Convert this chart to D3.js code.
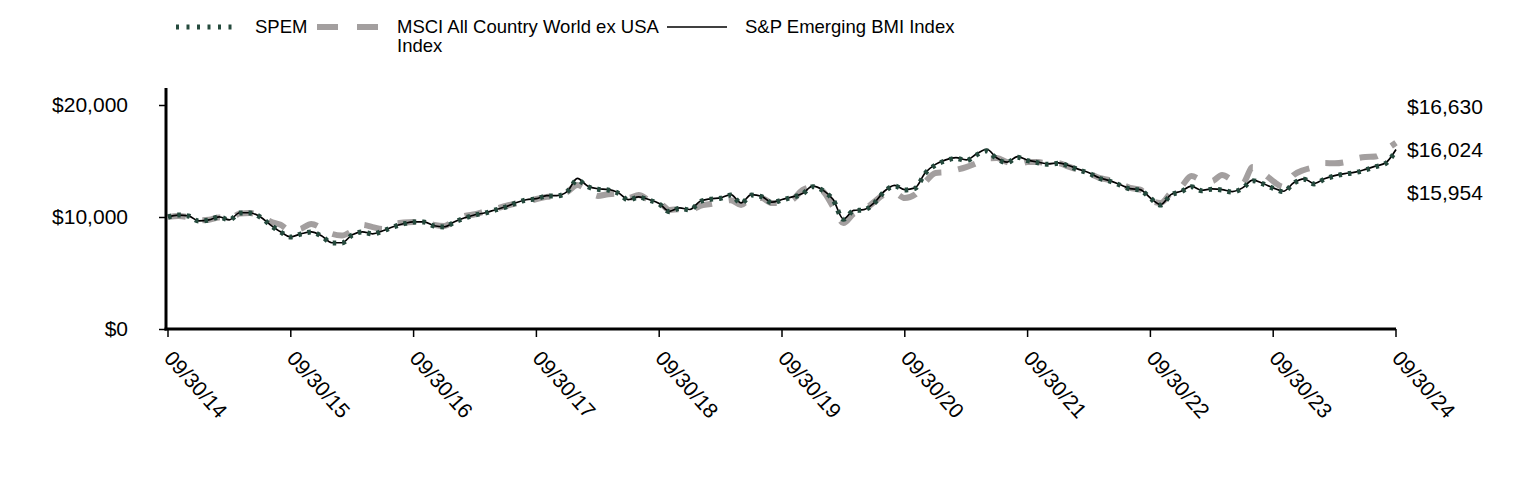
<!DOCTYPE html>
<html><head><meta charset="utf-8">
<script src="https://cdn.jsdelivr.net/npm/d3@7"></script>
<style>body{margin:0;background:#fff}svg{display:block}text{font-family:"Liberation Sans",Arial,sans-serif;fill:#000}</style>
</head><body><svg id="c" width="1524" height="480"></svg>
<script>
const tickLabels = ["09/30/14","09/30/15","09/30/16","09/30/17","09/30/18","09/30/19","09/30/20","09/30/21","09/30/22","09/30/23","09/30/24"];
const yTicks = [0, 10000, 20000];
const seriesNames = ["SPEM", "MSCI All Country World ex USA Index", "S&P Emerging BMI Index"];
const endLabels = ["$16,630", "$16,024", "$15,954"];

const spem = [10000,10180,10090,9640,9730,10000,9730,10360,10360,10000,9290,8660,8210,8480,8660,8300,7680,7680,8390,8660,8480,8750,9110,9380,9550,9550,9200,9110,9550,9910,10180,10360,10630,10890,11250,11520,11610,11880,11880,12230,13300,12710,12470,12410,12120,11520,11760,11520,11160,10470,10770,10630,11370,11580,11670,11960,11220,11960,11810,11280,11520,11760,12050,12710,12350,11520,9790,10560,10630,11220,12260,12770,12410,12560,13900,14640,15030,15240,15030,15540,15900,15200,14850,15330,15030,14850,14700,14790,14550,14200,13900,13460,13210,12860,12500,12410,11670,11070,11960,12260,12710,12350,12470,12410,12230,12560,13240,12950,12560,12260,13010,13370,12950,13370,13660,13840,13960,14200,14490,14790,15954];

const msci = [10000,10100,9980,9700,9750,9950,9800,10300,10350,10100,9600,9300,8750,8950,9380,9000,8500,8350,8750,9290,9100,8930,9380,9500,9550,9550,9300,9200,9730,10090,10250,10500,10720,10980,11200,11340,11610,11800,11900,12230,12860,12400,11880,12030,12100,11700,11960,11520,11300,10630,10700,10560,11000,11160,11340,11500,11070,11700,11700,11250,11250,11520,12400,12680,12300,10900,9460,10300,10630,11340,12000,12140,11690,12000,13130,13930,14000,14200,14450,14800,15250,15260,14900,14700,14900,14900,14800,14800,14500,14200,13900,13500,13300,13000,12600,12450,11500,11250,12140,12700,13660,13300,13200,13750,13300,13000,14460,13930,13200,12680,13750,14200,14460,14820,14800,14900,15200,15360,15400,16000,16630];

const bmi = [10000,10170,10100,9650,9740,10010,9750,10380,10380,10020,9300,8680,8230,8500,8680,8320,7700,7700,8410,8680,8500,8770,9130,9400,9570,9570,9220,9130,9570,9930,10200,10380,10650,10910,11270,11540,11640,11910,11910,12260,13450,12760,12520,12460,12170,11560,11800,11560,11200,10510,10810,10670,11410,11620,11710,12000,11260,12000,11850,11320,11560,11800,12090,12760,12400,11560,9820,10590,10660,11260,12300,12820,12450,12600,13950,14700,15100,15300,15100,15620,16050,15260,14900,15390,15080,14900,14750,14840,14600,14250,13950,13500,13250,12900,12540,12450,11700,11100,12000,12300,12750,12390,12510,12450,12270,12600,13290,12990,12600,12300,13050,13410,12990,13410,13700,13880,14000,14250,14540,14840,16024];

const svg = d3.select("#c");
const x = d3.scaleLinear().domain([0, 120]).range([168, 1396]);
const y = d3.scaleLinear().domain([0, 20000]).range([329, 105]);

const green = "#254a3d", gray = "#a39f9f";

// lines
const line = arr => d3.line().x((d, i) => x(i)).y(d => y(d)).curve(d3.curveMonotoneX)(arr);
svg.append("path").attr("d", line(msci)).attr("fill", "none").attr("stroke", gray).attr("stroke-width", 6).attr("stroke-dasharray", "18,17");
svg.append("path").attr("d", line(bmi)).attr("fill", "none").attr("stroke", "#000").attr("stroke-width", 1.7);
svg.append("path").attr("d", line(spem)).attr("fill", "none").attr("stroke", green).attr("stroke-width", 5).attr("stroke-dasharray", "3.5,6");

// y axis
const yAxis = d3.axisLeft(y).tickValues(yTicks).tickSize(7).tickPadding(31).tickFormat(d => "$" + d3.format(",")(d));
const gy = svg.append("g").attr("transform", "translate(166,0)").call(yAxis);
gy.select(".domain").remove();
gy.selectAll(".tick line").attr("stroke", "#000").attr("stroke-width", 1.5);
gy.selectAll(".tick text").style("font-size", "21px").attr("fill", "#000");
svg.append("line").attr("x1", 166).attr("x2", 166).attr("y1", y(20000) - 17).attr("y2", y(0) + 1.5).attr("stroke", "#000").attr("stroke-width", 3);

// x axis
const xt = d3.range(0, 121, 12);
svg.append("line").attr("x1", 164.5).attr("x2", x(120)).attr("y1", y(0)).attr("y2", y(0)).attr("stroke", "#000").attr("stroke-width", 3);
const gx = svg.append("g");
gx.selectAll("line").data(xt).join("line").attr("x1", d => x(d)).attr("x2", d => x(d)).attr("y1", y(0)).attr("y2", y(0) + 8).attr("stroke", "#000").attr("stroke-width", 1.5);
gx.selectAll("text").data(xt).join("text")
  .attr("transform", d => `translate(${x(d) - 5},${y(0) + 30}) rotate(48)`)
  .style("font-size", "21px").text((d, i) => tickLabels[i]);

// end labels
const midY = y(bmi[120]);
svg.selectAll("text.end").data(endLabels).join("text").attr("class", "end")
  .attr("x", 1407).attr("y", (d, i) => midY + (i - 1) * 43).attr("dy", "0.35em")
  .style("font-size", "21px").text(d => d);

// legend
const lg = svg.append("g");
lg.append("line").attr("x1", 176).attr("x2", 232).attr("y1", 27).attr("y2", 27).attr("stroke", green).attr("stroke-width", 5).attr("stroke-dasharray", "3,7.5");
lg.append("text").attr("x", 255).attr("y", 27).attr("dy", "0.35em").style("font-size", "18.5px").text(seriesNames[0]);
lg.append("line").attr("x1", 317).attr("x2", 378).attr("y1", 27).attr("y2", 27).attr("stroke", gray).attr("stroke-width", 6).attr("stroke-dasharray", "21,19");
const t2 = lg.append("text").attr("x", 397).attr("y", 27).attr("dy", "0.35em").style("font-size", "18.5px");
t2.append("tspan").attr("x", 397).text("MSCI All Country World ex USA");
t2.append("tspan").attr("x", 397).attr("dy", "1em").text("Index");
lg.append("line").attr("x1", 667).attr("x2", 727).attr("y1", 27).attr("y2", 27).attr("stroke", "#000").attr("stroke-width", 1.7);
lg.append("text").attr("x", 745).attr("y", 27).attr("dy", "0.35em").style("font-size", "18.5px").text(seriesNames[2]);
</script></body></html>
